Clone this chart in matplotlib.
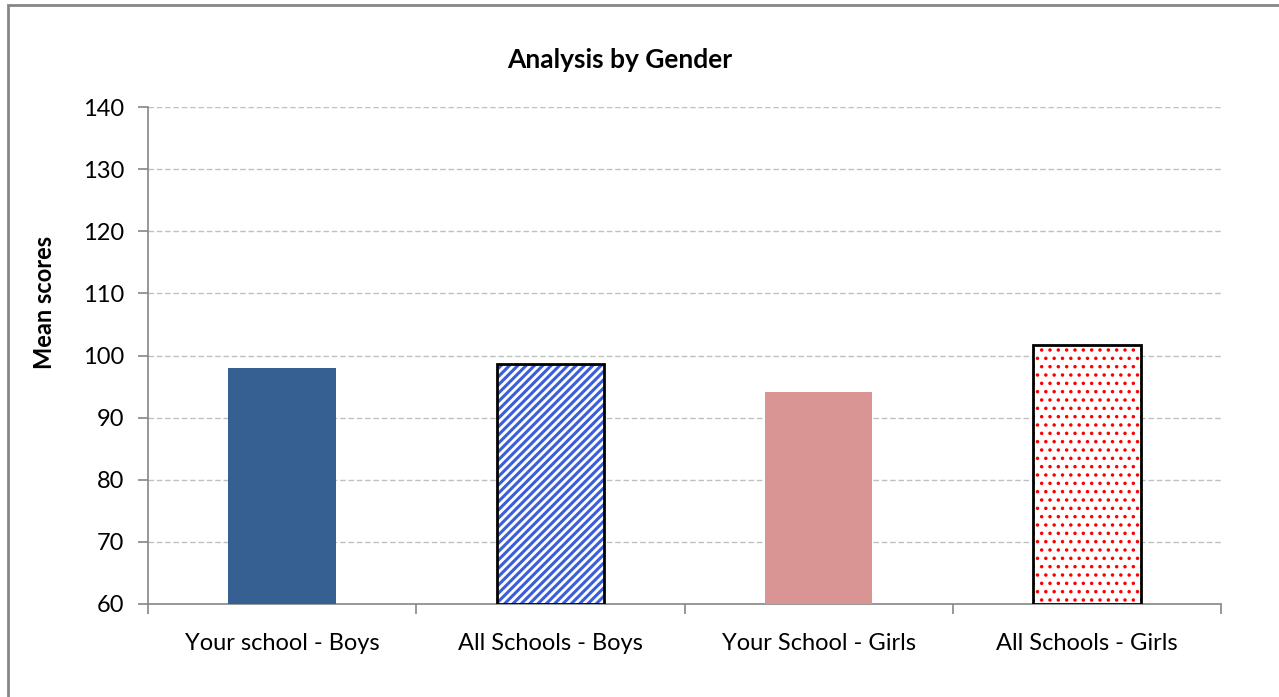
import numpy as np
import matplotlib.pyplot as plt
from matplotlib.patches import Rectangle

# data
categorias = ["Your school - Boys", "All Schools - Boys", "Your School - Girls", "All Schools - Girls"]
medias = [98.0, 98.6, 94.1, 101.7]
cores = ["#376092", "white", "#d99594", "white"]
hachuras = [None, "////", None, ".."]
cor_hachura = [None, "#3b5fd9", None, "#ff0000"]
esp_hachura = [None, 2.2, None, 1.3]

plt.rcParams['font.family'] = ['Lato', 'DejaVu Sans']

fig = plt.figure(figsize=(12.79, 6.97), dpi=100)
fig.patches.append(Rectangle((8/1279, -0.01), 1.1, 1 - 5/697 + 0.01, transform=fig.transFigure,
                             fill=False, edgecolor="#868686", linewidth=2))

ax = fig.add_axes([148/1279, 1 - 604/697, 1073/1279, 497/697])
x = np.arange(len(categorias))
base = 60

for i in range(len(categorias)):
    if hachuras[i] is None:
        ax.bar(x[i], medias[i] - base, bottom=base, width=0.4, color=cores[i], linewidth=0, zorder=3)
    else:
        plt.rcParams['hatch.linewidth'] = esp_hachura[i]
        ax.bar(x[i], medias[i] - base, bottom=base, width=0.4, color="white",
               edgecolor=cor_hachura[i], hatch=hachuras[i], linewidth=0, zorder=3)
        ax.bar(x[i], medias[i] - base, bottom=base, width=0.4, fill=False,
               edgecolor="black", linewidth=2, zorder=4)

ax.set_xlim(-0.5, 3.5)
ax.set_ylim(60, 140)
ax.set_yticks(range(60, 141, 10))
ax.yaxis.grid(True, linestyle=(0, (4, 2)), color="#c0c0c0", linewidth=1)
ax.set_axisbelow(True)

ax.set_xticks(x)
ax.set_xticklabels(categorias)
ax.set_xticks(np.arange(-0.5, 4, 1), minor=True)
ax.tick_params(axis="x", which="major", length=0, pad=21, labelsize=17)
ax.tick_params(axis="x", which="minor", length=7, color="#868686", width=1.2)
ax.tick_params(axis="y", length=7, color="#868686", width=1.2, pad=10, labelsize=17)

for s in ["top", "right"]:
    ax.spines[s].set_visible(False)
for s in ["left", "bottom"]:
    ax.spines[s].set_color("#868686")
    ax.spines[s].set_linewidth(1.2)

fig.text(620/1279, 1 - 60/697, "Analysis by Gender", ha="center", va="center",
         fontsize=19, fontweight="bold")
fig.text(45/1279, 1 - 302/697, "Mean scores", ha="center", va="center",
         rotation=90, fontsize=17, fontweight="bold")

fig.savefig("out.png", dpi=100)
